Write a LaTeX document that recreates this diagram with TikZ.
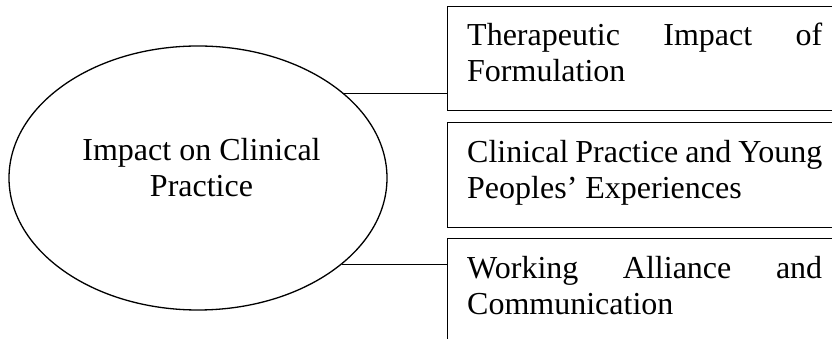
\documentclass[tikz,border=0pt]{standalone}
\usepackage{fontspec}
\setmainfont{Liberation Serif}
\usetikzlibrary{shapes.geometric}
\begin{document}
\begin{tikzpicture}[x=1pt,y=1pt,
  ell/.style={ellipse, draw, line width=1.3pt, minimum width=378pt, minimum height=264pt, inner sep=0pt},
  boxnode/.style={rectangle, draw, line width=1pt, anchor=north west, inner xsep=20pt, inner ysep=0pt},
  conn/.style={line width=0.9pt},
  txt/.style={font=\fontsize{32}{36.5}\selectfont}]
\useasboundingbox (0,0) rectangle (832,339);
\clip (0,0) rectangle (832,339);
\node[ell] (ell) at (198,161) {};
\node[txt, align=center] (elltext) at (201.5,171.5) {Impact on Clinical\\Practice};
\node[boxnode, txt] (b1) at (446.7,333) {\parbox[c][104pt][t]{355pt}{\hyphenpenalty=10000\tolerance=10000\vspace*{13pt}\noindent\strut Therapeutic Impact of Formulation}};
\node[boxnode, txt] (b2) at (446.7,217) {\parbox[c][105pt][t]{355pt}{\hyphenpenalty=10000\tolerance=10000\vspace*{14pt}\noindent\strut Clinical Practice and Young Peoples’ Experiences}};
\node[boxnode, txt] (b3) at (446.7,101) {\parbox[c][130pt][t]{355pt}{\hyphenpenalty=10000\tolerance=10000\vspace*{14pt}\noindent\strut Working Alliance and Communication}};
\draw[conn] (ell.30.6) -- (ell.30.6 -| b1.west);
\draw[conn] (ell.-31.5) -- (ell.-31.5 -| b3.west);
\end{tikzpicture}
\end{document}
